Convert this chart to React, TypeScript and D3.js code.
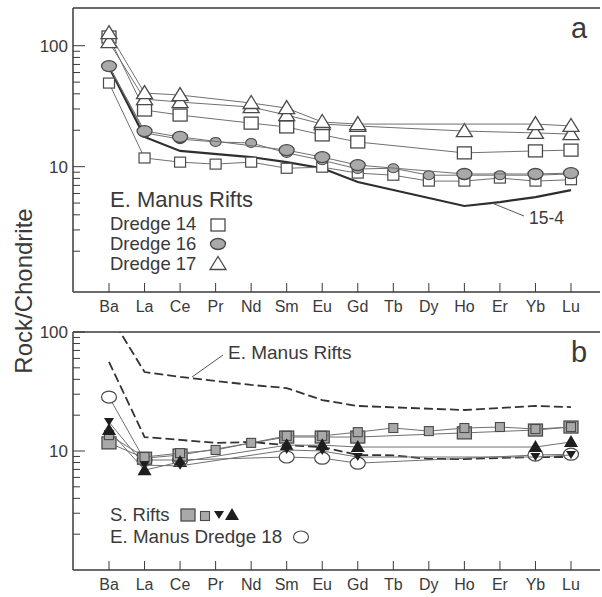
import React from 'react';
import * as d3 from 'd3';

// REE elements along the x axis
const elements = ['Ba', 'La', 'Ce', 'Pr', 'Nd', 'Sm', 'Eu', 'Gd', 'Tb', 'Dy', 'Ho', 'Er', 'Yb', 'Lu'];

// Panel a — E. Manus Rifts
const dredge14a = [118, 29.4, 26.7, null, 22.9, 21.3, 18.3, 16.0, null, null, 13.0, null, 13.5, 13.7];
const dredge14b = [49.1, 11.8, 10.9, 10.5, 10.9, 9.7, 9.9, 8.85, 8.5, 7.6, 7.6, 8.05, 7.6, 7.8];
const dredge16a = [67.9, 19.7, 17.6, null, null, 13.7, 12.0, 10.3, null, null, 8.7, null, 8.7, 8.85];
const dredge16b = [67.9, 19.0, 16.9, 16.0, 15.7, 13.0, 11.3, 9.57, 9.7, 8.5, 8.5, 8.5, 8.5, 8.7];
const dredge17a = [127, 40.6, 39.1, null, 33.6, 30.5, 23.4, 22.5, null, null, null, null, 22.5, 21.7];
const dredge17b = [107, 36.2, 34.2, null, 31.1, 26.7, 22.5, 21.7, null, null, 19.7, null, 19.0, 18.6];
const sample154 = [66.6, 17.6, 13.5, null, 12.0, 10.9, 9.7, 7.46, null, null, 4.73, 5.1, 5.6, 6.4];

// Panel b — E. Manus Rifts envelope, S. Rifts, Dredge 18
const envUpper = [142, 46.1, 41.9, null, 35.9, 33.8, 26.8, 23.9, null, null, 22.1, null, 23.9, 23.4];
const envLower = [56, 13.1, 12.4, 11.7, 11.9, 11.2, 10.8, 9.25, 9.2, 8.57, 8.57, null, 8.9, 8.9];
const sRiftsBig = [11.7, 8.7, 9.25, null, null, 13.1, 13.1, 13.1, null, null, 14.2, null, 15.0, 15.9];
const sRiftsSmall = [13.6, 8.9, 9.6, 10.2, 11.7, 13.4, 13.4, 14.4, 15.6, 14.7, 15.6, 15.9, 15.3, 15.9];
const sRiftsDown = [17.5, 7.6, 7.5, null, null, 10.2, 10.0, 8.9, null, null, null, null, 8.9, 9.25];
const sRiftsUp = [15.0, 6.9, 8.1, null, null, 11.2, 11.2, 10.8, null, null, null, null, 10.8, 11.9];
const dredge18 = [28.4, 8.4, 8.4, null, null, 8.9, 8.7, 7.9, null, null, null, null, 9.25, 9.4];

const yMajor = [10, 100];
const yMinor = [2, 3, 4, 5, 6, 7, 8, 9, 20, 30, 40, 50, 60, 70, 80, 90];

const FONT = '"Liberation Sans", Arial, Helvetica, sans-serif';
const TXT = '#3a3a3a';
const AX = '#3a3a3a';
const LINE = '#707070';
const MK = '#4a4a4a';
const GREY = '#a9a9a9';

type Kind = 'square' | 'smallSquare' | 'circle' | 'smallCircle' | 'triUp' | 'ellipse'
  | 'greySquare' | 'greySmallSquare' | 'blackUp' | 'blackDown';

const Marker: React.FC<{ kind: Kind; cx: number; cy: number }> = ({ kind, cx, cy }) => {
  switch (kind) {
    case 'square':
      return <rect x={cx - 7} y={cy - 6} width={14} height={12} fill="#fff" stroke={MK} strokeWidth={1.3} />;
    case 'smallSquare':
      return <rect x={cx - 5.5} y={cy - 5} width={11} height={10} fill="#fff" stroke={MK} strokeWidth={1.2} />;
    case 'circle':
      return <ellipse cx={cx} cy={cy} rx={7.5} ry={5.5} fill={GREY} stroke={MK} strokeWidth={1.3} />;
    case 'smallCircle':
      return <ellipse cx={cx} cy={cy} rx={5.5} ry={4.5} fill={GREY} stroke={MK} strokeWidth={1.1} />;
    case 'triUp':
      return <path d={`M${cx},${cy - 7.5}L${cx + 8},${cy + 5.5}L${cx - 8},${cy + 5.5}Z`} fill="#fff" stroke={MK} strokeWidth={1.3} />;
    case 'ellipse':
      return <ellipse cx={cx} cy={cy} rx={7.5} ry={6} fill="#fff" stroke={MK} strokeWidth={1.2} />;
    case 'greySquare':
      return <rect x={cx - 7} y={cy - 6} width={14} height={12} fill={GREY} stroke={MK} strokeWidth={1.3} />;
    case 'greySmallSquare':
      return <rect x={cx - 4.5} y={cy - 4.5} width={9} height={9} fill={GREY} stroke={MK} strokeWidth={1.1} />;
    case 'blackUp':
      return <path d={`M${cx},${cy - 7}L${cx + 7},${cy + 5}L${cx - 7},${cy + 5}Z`} fill="#1e1e1e" />;
    case 'blackDown':
      return <path d={`M${cx - 5},${cy - 4}L${cx + 5},${cy - 4}L${cx},${cy + 4}Z`} fill="#1e1e1e" />;
    default:
      return null;
  }
};

const x = d3.scalePoint<string>().domain(elements).range([109, 571]);
const yA = d3.scaleLog().domain([0.92, 205]).range([292, 8]);
const yB = d3.scaleLog().domain([1, 100]).range([570, 332]);

const LEFT = 73;
const RIGHT = 600;

const points = (vals: (number | null)[]) =>
  vals.map((v, i) => ({ el: elements[i], v })).filter(d => d.v != null) as { el: string; v: number }[];

const Axes: React.FC<{ y: d3.ScaleLogarithmic<number, number>; top: number; bottom: number }> = ({ y, top, bottom }) => (
  <g>
    <line x1={LEFT} x2={RIGHT} y1={top} y2={top} stroke={AX} strokeWidth={1.5} />
    <line x1={LEFT} x2={RIGHT} y1={bottom} y2={bottom} stroke={AX} strokeWidth={1.5} />
    <line x1={LEFT} x2={LEFT} y1={top} y2={bottom} stroke={AX} strokeWidth={1.5} />
    {yMinor.map(t => (
      <line key={t} x1={LEFT} x2={LEFT + 7} y1={y(t)} y2={y(t)} stroke={AX} strokeWidth={1} />
    ))}
    {yMajor.map(t => (
      <g key={t}>
        <line x1={LEFT} x2={LEFT + 12} y1={y(t)} y2={y(t)} stroke={AX} strokeWidth={1} />
        <text x={LEFT - 5} y={y(t) + 6} textAnchor="end" fontSize={17} fill={TXT} fontFamily={FONT}>{t}</text>
      </g>
    ))}
    {elements.map(el => (
      <g key={el}>
        <line x1={x(el)} x2={x(el)} y1={bottom} y2={bottom - 9} stroke={AX} strokeWidth={1} />
        <text x={x(el)} y={bottom + 20} textAnchor="middle" fontSize={16} fill={TXT} fontFamily={FONT}>{el}</text>
      </g>
    ))}
  </g>
);

const Series: React.FC<{
  vals: (number | null)[]; y: d3.ScaleLogarithmic<number, number>; kind?: Kind;
  stroke?: string; width?: number; dash?: string; markers?: boolean;
}> = ({ vals, y, kind, stroke = LINE, width = 1, dash, markers = true }) => {
  const pts = points(vals);
  const line = d3.line<{ el: string; v: number }>().x(d => x(d.el) as number).y(d => y(d.v));
  return (
    <g>
      <path d={line(pts) ?? ''} fill="none" stroke={stroke} strokeWidth={width} strokeDasharray={dash} />
      {markers && kind && pts.map(d => <Marker key={d.el} kind={kind} cx={x(d.el) as number} cy={y(d.v)} />)}
    </g>
  );
};

const App: React.FC = () => {
  const lineA = (vals: (number | null)[]) => ({ vals, y: yA });
  const lineB = (vals: (number | null)[]) => ({ vals, y: yB });
  return (
    <div style={{ position: 'absolute', left: 0, top: 0 }}>
      <svg width={602} height={597} viewBox="0 0 602 597" style={{ display: 'block', background: '#fff' }}>
        <defs>
          <clipPath id="clipB"><rect x={LEFT} y={332} width={RIGHT - LEFT} height={238} /></clipPath>
        </defs>
        <rect width={602} height={597} fill="#fff" />

        {/* Panel a */}
        <Axes y={yA} top={8} bottom={292} />
        <Series {...lineA(sample154)} stroke="#2e2e2e" width={2.2} markers={false} />
        <Series {...lineA(dredge14b)} kind="smallSquare" />
        <Series {...lineA(dredge16b)} kind="smallCircle" />
        <Series {...lineA(dredge16a)} kind="circle" />
        <Series {...lineA(dredge14a)} kind="square" />
        <Series {...lineA(dredge17b)} kind="triUp" />
        <Series {...lineA(dredge17a)} kind="triUp" />
        <line x1={492} y1={203} x2={524} y2={216} stroke="#555" strokeWidth={1} />
        <text x={529} y={224} fontSize={17.5} fill={TXT} fontFamily={FONT}>15-4</text>
        <text x={571} y={38} fontSize={29} fill={TXT} fontFamily={FONT}>a</text>

        <text x={110} y={207} fontSize={22} fill={TXT} fontFamily={FONT}>E. Manus Rifts</text>
        <text x={110} y={230} fontSize={18.5} fill={TXT} fontFamily={FONT}>Dredge 14</text>
        <text x={110} y={250} fontSize={18.5} fill={TXT} fontFamily={FONT}>Dredge 16</text>
        <text x={110} y={270} fontSize={18.5} fill={TXT} fontFamily={FONT}>Dredge 17</text>
        <Marker kind="square" cx={218} cy={225} />
        <Marker kind="circle" cx={218} cy={244} />
        <Marker kind="triUp" cx={218} cy={264} />

        {/* Panel b */}
        <Axes y={yB} top={332} bottom={570} />
        <g clipPath="url(#clipB)">
          <Series {...lineB(envUpper)} stroke="#333" width={1.8} dash="9,4" markers={false} />
          <Series {...lineB(envLower)} stroke="#333" width={1.8} dash="9,4" markers={false} />
          <Series {...lineB(dredge18)} kind="ellipse" />
          <Series {...lineB(sRiftsBig)} kind="greySquare" />
          <Series {...lineB(sRiftsSmall)} kind="greySmallSquare" />
          <Series {...lineB(sRiftsUp)} kind="blackUp" />
          <Series {...lineB(sRiftsDown)} kind="blackDown" />
        </g>
        <line x1={192} y1={377} x2={223} y2={355} stroke="#555" strokeWidth={1} />
        <text x={228} y={359} fontSize={19} fill={TXT} fontFamily={FONT}>E. Manus Rifts</text>
        <text x={571} y={362} fontSize={29} fill={TXT} fontFamily={FONT}>b</text>

        <text x={110} y={521} fontSize={18.5} fill={TXT} fontFamily={FONT}>S. Rifts</text>
        <Marker kind="greySquare" cx={188} cy={515} />
        <Marker kind="greySmallSquare" cx={205} cy={516} />
        <Marker kind="blackDown" cx={219} cy={515} />
        <Marker kind="blackUp" cx={232} cy={515} />
        <text x={110} y={543} fontSize={18.8} fill={TXT} fontFamily={FONT}>E. Manus Dredge 18</text>
        <Marker kind="ellipse" cx={301} cy={537} />

        <text transform="translate(32,291) rotate(-90)" textAnchor="middle" fontSize={24} fill={TXT} fontFamily={FONT}>Rock/Chondrite</text>
      </svg>
    </div>
  );
};

export default App;
